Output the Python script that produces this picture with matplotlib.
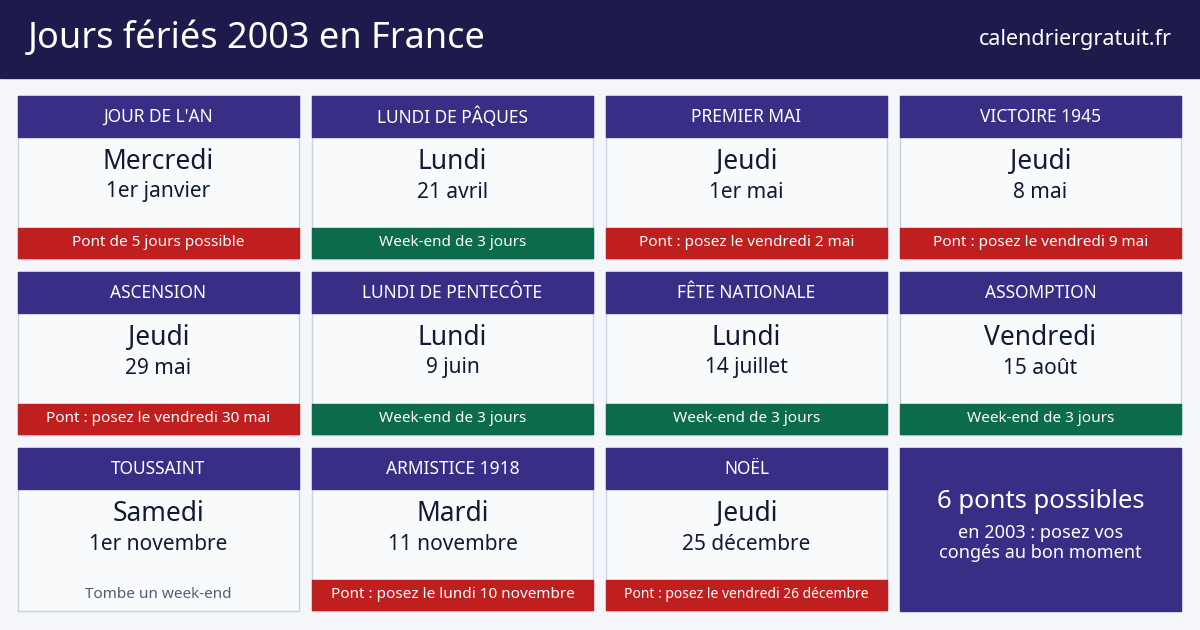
import matplotlib
matplotlib.use("Agg")
import matplotlib.pyplot as plt
from matplotlib.patches import Rectangle

plt.rcParams['font.family'] = ['Noto Sans', 'DejaVu Sans']

title = "Jours fériés 2003 en France"
site = "calendriergratuit.fr"
names = ["JOUR DE L'AN", "LUNDI DE PÂQUES", "PREMIER MAI", "VICTOIRE 1945",
         "ASCENSION", "LUNDI DE PENTECÔTE", "FÊTE NATIONALE", "ASSOMPTION",
         "TOUSSAINT", "ARMISTICE 1918", "NOËL"]
days = ["Mercredi", "Lundi", "Jeudi", "Jeudi", "Jeudi", "Lundi", "Lundi", "Vendredi",
        "Samedi", "Mardi", "Jeudi"]
dates = ["1er janvier", "21 avril", "1er mai", "8 mai", "29 mai", "9 juin", "14 juillet",
         "15 août", "1er novembre", "11 novembre", "25 décembre"]
notes = ["Pont de 5 jours possible", "Week-end de 3 jours", "Pont : posez le vendredi 2 mai",
         "Pont : posez le vendredi 9 mai", "Pont : posez le vendredi 30 mai",
         "Week-end de 3 jours", "Week-end de 3 jours", "Week-end de 3 jours",
         "Tombe un week-end", "Pont : posez le lundi 10 novembre",
         "Pont : posez le vendredi 26 décembre"]
note_types = ["pont", "we", "pont", "pont", "pont", "we", "we", "we", "none", "pont", "pont"]
summary_title = "6 ponts possibles"
summary_text = "en 2003 : posez vos\ncongés au bon moment"

NAVY = "#1d1b4b"
PURPLE = "#372e85"
RED = "#c01f20"
GREEN = "#0b6b4b"
BG = "#f4f6fa"
TXT = "#111a33"

fig = plt.figure(figsize=(12, 6.3), dpi=100)
ax = fig.add_axes([0, 0, 1, 1])
ax.set_xlim(0, 1200); ax.set_ylim(630, 0); ax.axis('off')
fig.patch.set_facecolor(BG)
ax.add_patch(Rectangle((0, 0), 1200, 630, color=BG))
ax.add_patch(Rectangle((0, 0), 1200, 78, color=NAVY))
ax.text(28, 39, title, color="white", fontsize=26, fontweight="bold", va="center", ha="left")
ax.text(1172, 40, site, color="white", fontsize=15.5, va="center", ha="right")

xs = [18, 312, 606, 900]
ys = [96, 272, 448]
W, H = 281, 163
for i, name in enumerate(names):
    x = xs[i % 4]; y = ys[i // 4]; cx = x + W / 2
    ax.add_patch(Rectangle((x, y), W, H, facecolor="#f8fafc", edgecolor="#c9d2e3", lw=1))
    ax.add_patch(Rectangle((x, y), W, 41, color=PURPLE))
    ax.text(cx, y + 21, name, color="white", fontsize=12.5, ha="center", va="center")
    ax.text(cx, y + 66, days[i], color=TXT, fontsize=19, fontweight="bold", ha="center", va="center")
    ax.text(cx, y + 96, dates[i], color=TXT, fontsize=15, ha="center", va="center")
    t = note_types[i]
    if t == "none":
        ax.text(cx, y + 147, notes[i], color="#555c6e", fontsize=11, ha="center", va="center")
    else:
        ax.add_patch(Rectangle((x, y + 132), W, 30, color=RED if t == "pont" else GREEN))
        fs = 10 if len(notes[i]) > 33 else 11
        ax.text(cx, y + 147, notes[i], color="white", fontsize=fs, fontweight="bold",
                ha="center", va="center")

x, y = xs[3], ys[2]
ax.add_patch(Rectangle((x, y), W, H, color=PURPLE))
ax.text(x + W / 2, y + 53, summary_title, color="white", fontsize=18.5, fontweight="bold",
        ha="center", va="center")
ax.text(x + W / 2, y + 95, summary_text, color="white", fontsize=13, ha="center",
        va="center", linespacing=1.2)

fig.savefig("out.png", dpi=100, facecolor=BG)
